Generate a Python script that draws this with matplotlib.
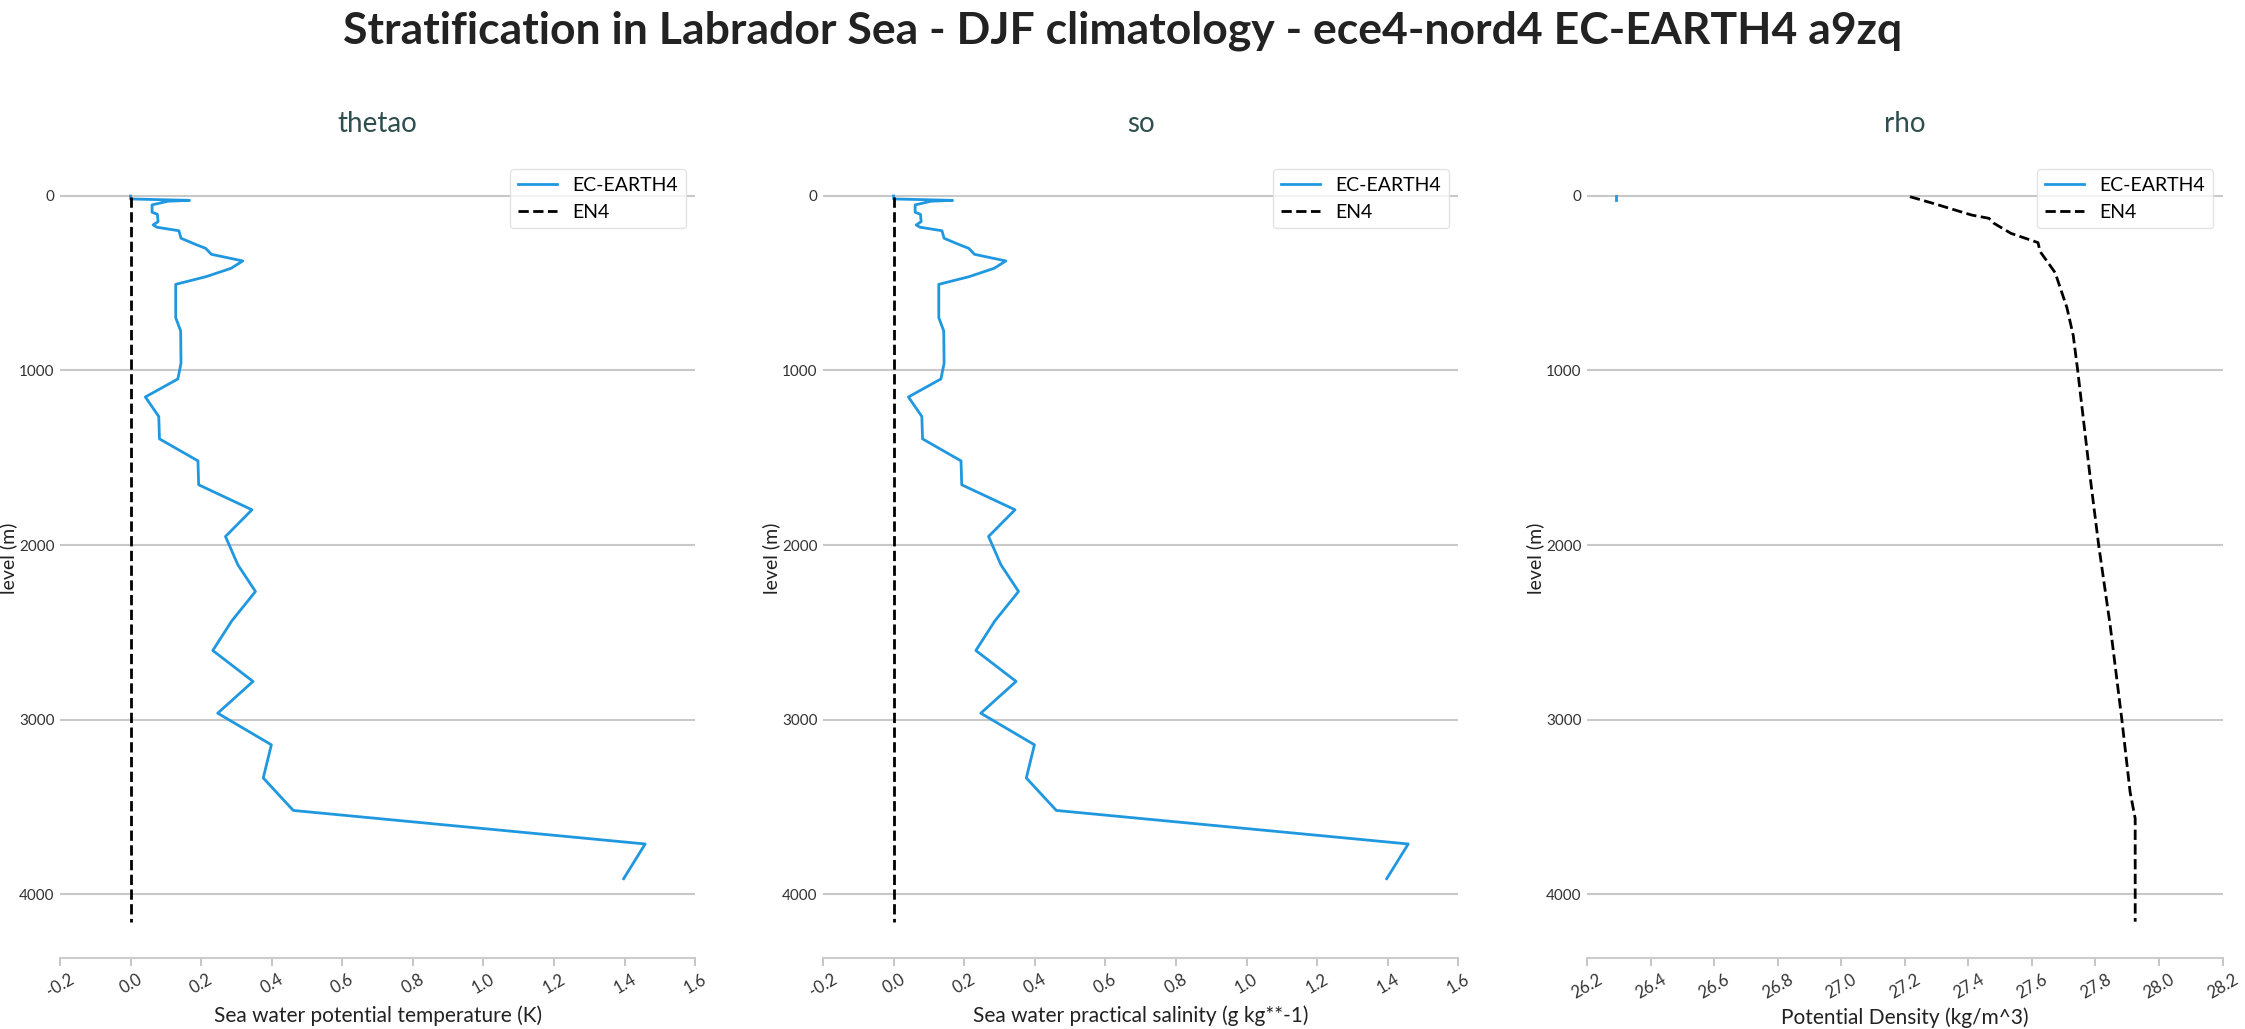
import numpy as np
import matplotlib.pyplot as plt

# model minus EN4 profiles (thetao and so look identical in the picture)
model_depth = [1, 18, 26, 31, 52, 94, 106, 148, 167, 180, 200, 243, 278, 301, 335,
               373, 415, 463, 507, 698, 774, 959, 1049, 1152, 1264, 1392, 1518,
               1655, 1798, 1951, 2113, 2266, 2434, 2604, 2781, 2963, 3144, 3334,
               3520, 3712, 3911]
thetao_bias = [0.0, 0.0, 0.167, 0.106, 0.061, 0.061, 0.076, 0.078, 0.064, 0.075,
               0.137, 0.143, 0.184, 0.213, 0.229, 0.318, 0.285, 0.214, 0.128, 0.128,
               0.142, 0.143, 0.134, 0.042, 0.080, 0.082, 0.191, 0.193, 0.344, 0.269,
               0.304, 0.354, 0.287, 0.233, 0.347, 0.247, 0.399, 0.376, 0.461, 1.458,
               1.397]
so_bias = list(thetao_bias)

# EN4 reference
en4_depth = [5, 47, 77, 110, 129, 157, 215, 268, 320, 440, 640, 800, 1000, 1608,
             2000, 2457, 3000, 3415, 3566, 4157]
en4_rho = [27.216, 27.296, 27.35, 27.41, 27.465, 27.48, 27.534, 27.619, 27.626,
           27.673, 27.71, 27.73, 27.744, 27.783, 27.81, 27.846, 27.883, 27.909,
           27.925, 27.925]
en4_zero = [0.0] * len(en4_depth)

# model rho: only a short stub near the surface is visible
model_rho_depth = [1, 24]
model_rho = [26.29, 26.29]

titles = ["thetao", "so", "rho"]
xlabels = ["Sea water potential temperature (K)",
           "Sea water practical salinity (g kg**-1)",
           "Potential Density (kg/m^3)"]
xlims = [(-0.2, 1.6), (-0.2, 1.6), (26.2, 28.2)]
xticks = [np.arange(-0.2, 1.61, 0.2), np.arange(-0.2, 1.61, 0.2),
          np.arange(26.2, 28.21, 0.2)]
yticks = [0, 1000, 2000, 3000, 4000]

plt.rcParams['font.family'] = ['Lato', 'DejaVu Sans']

fig = plt.figure(figsize=(22.45, 10.29), dpi=100)
fig.suptitle("Stratification in Labrador Sea - DJF climatology - ece4-nord4 EC-EARTH4 a9zq",
             fontsize=32, fontweight='bold', color='#222222', y=0.99)

lefts = [0.0267, 0.3666, 0.707]
width = 0.283
data = [(model_depth, thetao_bias, en4_depth, en4_zero),
        (model_depth, so_bias, en4_depth, en4_zero),
        (model_rho_depth, model_rho, en4_depth, en4_rho)]

blue = '#1f98e0'
for i in range(3):
    ax = fig.add_axes([lefts[i], 0.069, width, 0.776])
    md, mv, ed, ev = data[i]
    ax.plot(mv, md, color=blue, lw=2, label="EC-EARTH4")
    ax.plot(ev, ed, color='black', lw=2, ls='--', label="EN4")
    ax.set_ylim(4365, -208)
    ax.set_xlim(*xlims[i])
    ax.set_xticks(xticks[i])
    ax.set_xticklabels(["%.1f" % v for v in xticks[i]], rotation=30,
                       fontsize=12, color='#333333')
    ax.set_yticks(yticks)
    ax.set_yticklabels([str(v) for v in yticks], fontsize=11, color='#333333')
    ax.tick_params(axis='y', length=0, pad=4)
    ax.tick_params(axis='x', length=6, color='#bbbbbb', width=1.2)
    ax.yaxis.grid(True, color='#c8c8c8', lw=1.5)
    ax.set_axisbelow(True)
    for s in ['top', 'right', 'left']:
        ax.spines[s].set_visible(False)
    ax.spines['bottom'].set_color('#cccccc')
    ax.spines['bottom'].set_linewidth(1.5)
    ax.set_title(titles[i], fontsize=20, color='#2f4f4f', pad=20)
    ax.set_xlabel(xlabels[i], fontsize=15, color='#222222')
    ax.set_ylabel("level (m)", fontsize=14, color='#222222')
    ax.yaxis.set_label_coords(-0.068, 0.5)
    leg = ax.legend(loc='upper right', fontsize=14, frameon=True,
                    bbox_to_anchor=(1.0, 1.0))
    leg.get_frame().set_edgecolor('#dddddd')

fig.savefig("out.png", dpi=100)
